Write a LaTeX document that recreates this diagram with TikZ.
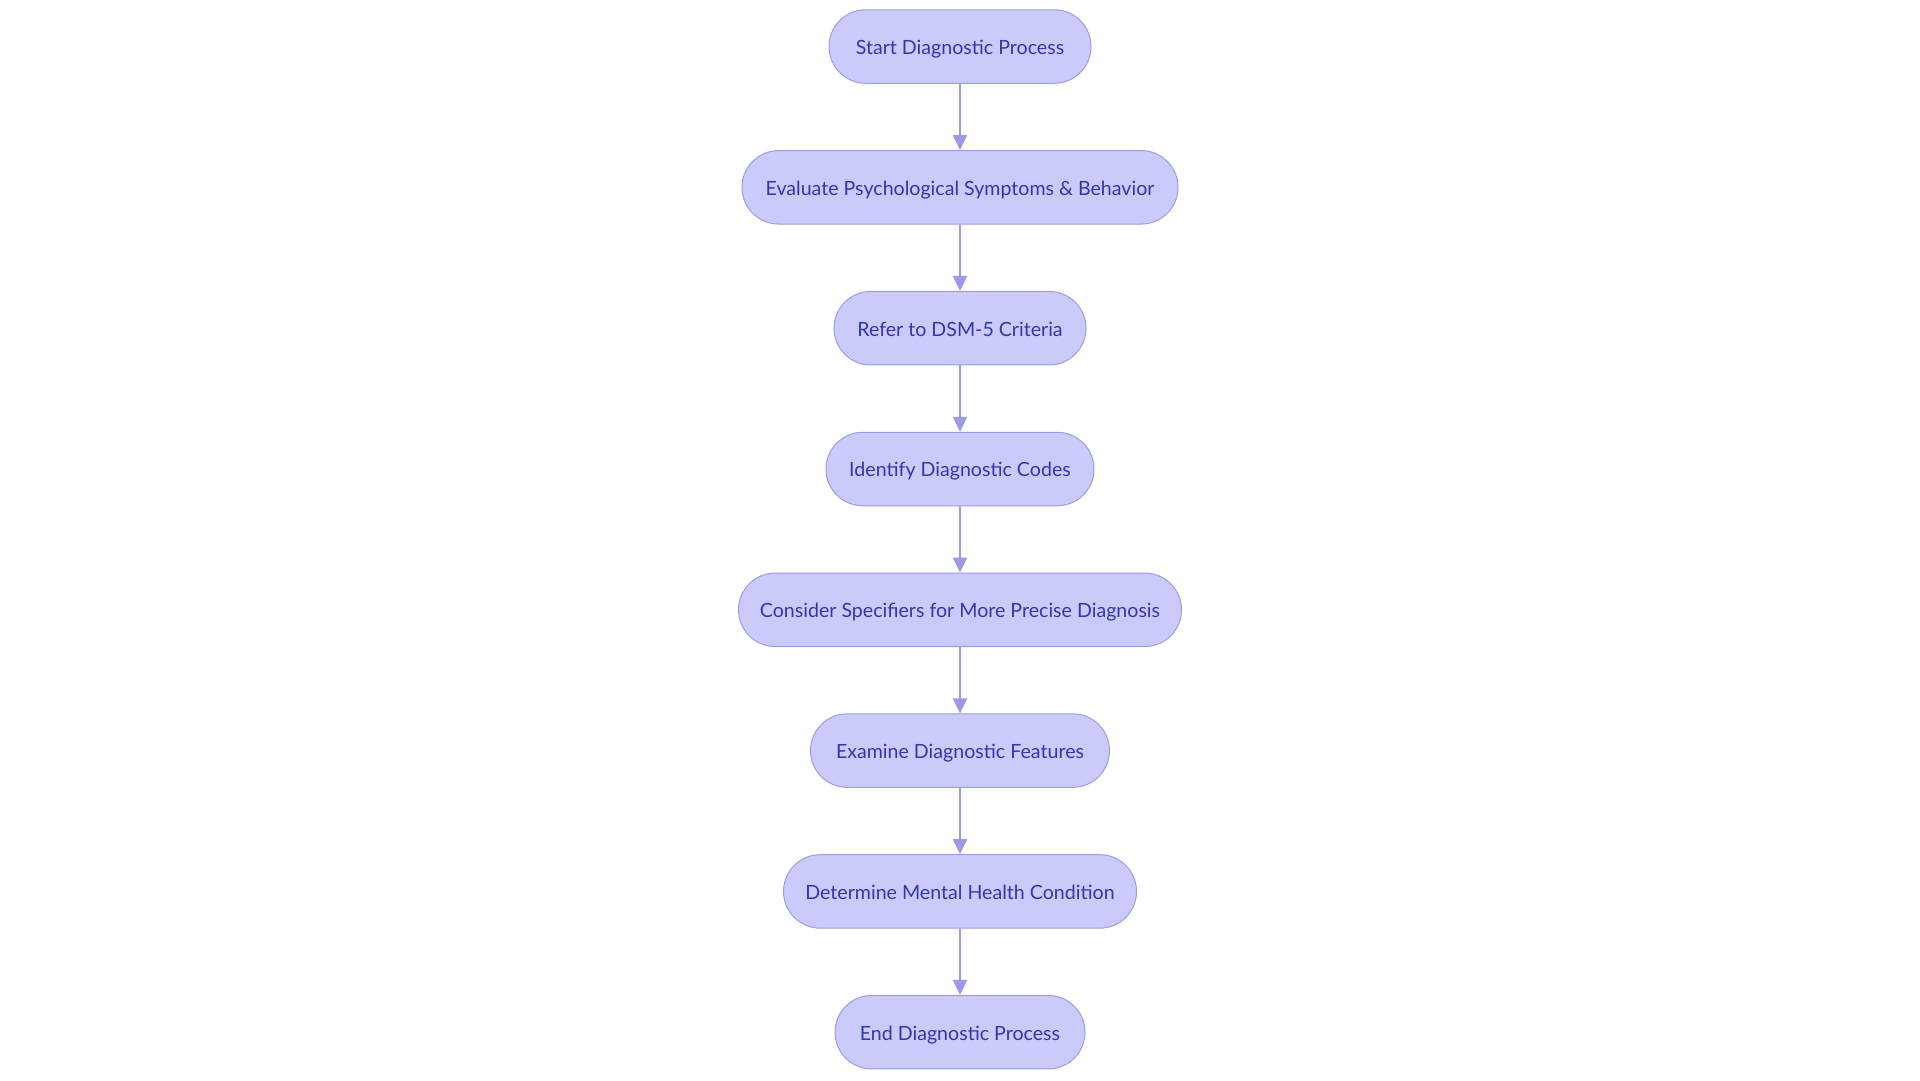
\documentclass[tikz,border=0pt]{standalone}
\usepackage{fontspec}
\setmainfont{Lato}
\usetikzlibrary{arrows.meta}
\definecolor{nodefill}{HTML}{CBCBFB}
\definecolor{nodeborder}{HTML}{9C9CE6}
\definecolor{nodetext}{HTML}{3535AE}
\definecolor{edgecol}{HTML}{9A9AE6}
\tikzset{
  stepbox/.style={draw=nodeborder, line width=1pt, fill=nodefill, rounded corners=36.75pt,
    minimum height=73.5pt, inner sep=0pt, text=nodetext, text height=18pt, text depth=2.2pt,
    font=\fontsize{19.6}{23}\selectfont},
  flow/.style={draw=edgecol, line width=2pt, -{Triangle[length=15pt,width=14pt]}}
}
\begin{document}
\begin{tikzpicture}[x=1pt,y=-1pt]
\useasboundingbox (0,0) rectangle (1920,1080);
\node[stepbox, minimum width=262pt] (n1) at (960,46.5) {Start Diagnostic Process};
\node[stepbox, minimum width=436pt] (n2) at (960,187.3) {Evaluate Psychological Symptoms \& Behavior};
\node[stepbox, minimum width=252pt] (n3) at (960,328.2) {Refer to DSM-5 Criteria};
\node[stepbox, minimum width=268pt] (n4) at (960,469) {Identify Diagnostic Codes};
\node[stepbox, minimum width=443pt] (n5) at (960,609.8) {Consider Specifiers for More Precise Diagnosis};
\node[stepbox, minimum width=299pt] (n6) at (960,750.6) {Examine Diagnostic Features};
\node[stepbox, minimum width=353pt] (n7) at (960,891.4) {Determine Mental Health Condition};
\node[stepbox, minimum width=250pt] (n8) at (960,1032.2) {End Diagnostic Process};
\foreach \a/\b in {n1/n2,n2/n3,n3/n4,n4/n5,n5/n6,n6/n7,n7/n8}
  \draw[flow] (\a.south) -- (\b.north);
\end{tikzpicture}
\end{document}
